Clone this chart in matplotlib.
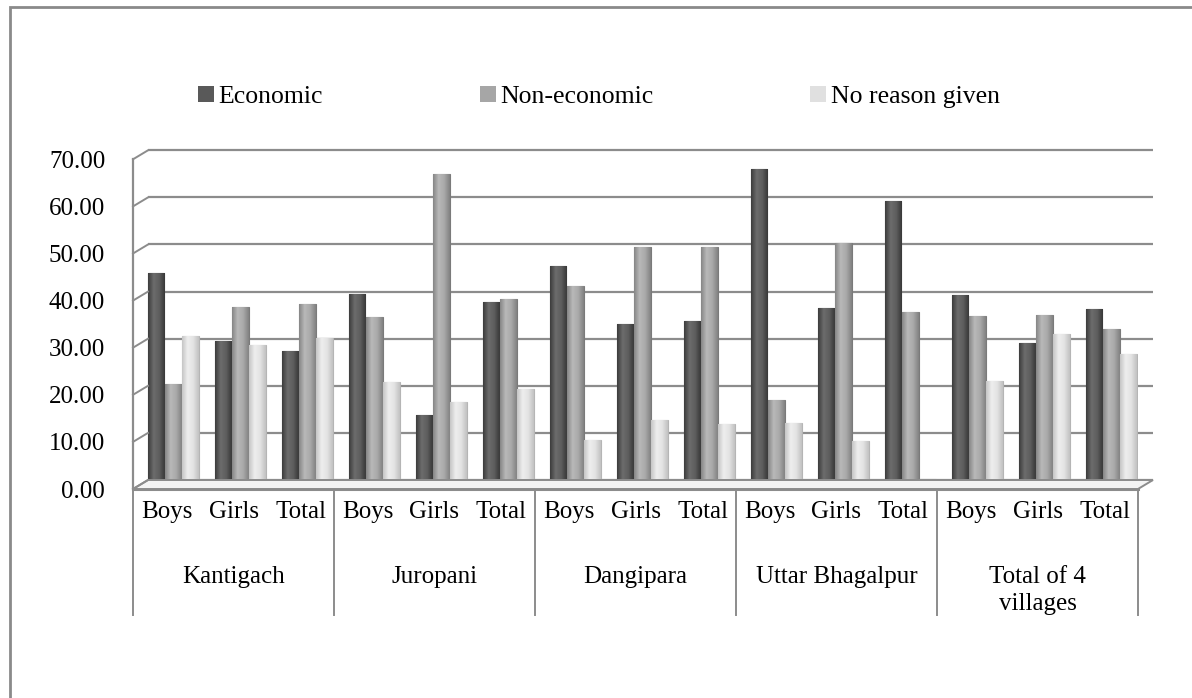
import numpy as np
import matplotlib
matplotlib.use("Agg")
import matplotlib.pyplot as plt
from matplotlib.colors import LinearSegmentedColormap
from matplotlib.patches import Rectangle, Polygon, Patch
from matplotlib.transforms import ScaledTranslation

# ---------------- data ----------------
villages = ["Kantigach", "Juropani", "Dangipara", "Uttar Bhagalpur", "Total of 4\nvillages"]
subgroups = ["Boys", "Girls", "Total"]
series_names = ["Economic", "Non-economic", "No reason given"]
economic = [45.8, 31.5, 29.4, 41.4, 15.7, 39.6, 47.3, 35.0, 35.7, 67.9, 38.4, 61.1, 41.2, 30.9, 38.2]
non_economic = [22.3, 38.7, 39.3, 36.6, 66.8, 40.4, 43.0, 51.3, 51.3, 18.9, 52.3, 37.5, 36.8, 37.0, 34.0]
no_reason = [32.5, 30.6, 32.0, 22.8, 18.4, 21.2, 10.4, 14.6, 13.8, 14.1, 10.2, 2.2, 23.0, 33.0, 28.7]
yticks = [0, 10, 20, 30, 40, 50, 60, 70]
ytick_labels = ["%.2f" % v for v in yticks]

plt.rcParams['font.family'] = ['Liberation Serif', 'DejaVu Serif']

W, H = 1192, 698
fig = plt.figure(figsize=(W / 100, H / 100), dpi=100)
ax = fig.add_axes([133 / W, (H - 489) / H, 1005 / W, 329.7 / H])
n = len(economic)
ax.set_xlim(0, n)
ax.set_ylim(0, 70)
ax.set_frame_on(False)
ax.set_xticks([])
ax.set_yticks(yticks)
ax.set_yticklabels(ytick_labels, fontsize=18)
ax.tick_params(axis='y', length=0, pad=20)

grid_col = '#8c8c8c'
back = ax.transData + ScaledTranslation(15 / 100, 9 / 100, fig.dpi_scale_trans)

# back wall gridlines
for v in yticks:
    ax.plot([0, n], [v, v], transform=back, color=grid_col, lw=1.6, zorder=1, clip_on=False,
            solid_capstyle='butt')
# left wall diagonal ticks (front point -> back point)
for v in yticks:
    p_front = ax.transData.transform((0, v))
    p_back = back.transform((0, v))
    fig.add_artist(plt.Line2D([p_front[0] / W, p_back[0] / W], [p_front[1] / H, p_back[1] / H],
                              color=grid_col, lw=1.4, zorder=1))
ax.plot([0, 0], [0, 70], color=grid_col, lw=1.6, zorder=1, clip_on=False)

# floor
f0 = ax.transData.transform((0, 0))
f1 = ax.transData.transform((n, 0))
b0 = back.transform((0, 0))
b1 = back.transform((n, 0))
floor = Polygon([[f0[0] / W, f0[1] / H], [f1[0] / W, f1[1] / H], [b1[0] / W, b1[1] / H],
                 [b0[0] / W, b0[1] / H]], closed=True, facecolor='#f4f4f4',
                edgecolor=grid_col, lw=1.4, zorder=0.5, transform=fig.transFigure)
fig.add_artist(floor)
ax.plot([0, n], [0, 0], color=grid_col, lw=2.2, zorder=1.5, clip_on=False)

# bars
cmaps = [
    LinearSegmentedColormap.from_list('e', ['#3c3c3c', '#6c6c6c', '#5e5e5e', '#383838']),
    LinearSegmentedColormap.from_list('n', ['#868686', '#b9b9b9', '#a9a9a9', '#828282']),
    LinearSegmentedColormap.from_list('r', ['#c6c6c6', '#eeeeee', '#e3e3e3', '#c2c2c2']),
]
face = ['#595959', '#a6a6a6', '#e0e0e0']
edge = ['#333333', '#7a7a7a', '#b5b5b5']
width = 0.25
xs = np.arange(n) + 0.6
grad = np.linspace(0, 1, 64).reshape(1, -1)
handles = []
for j, vals in enumerate([economic, non_economic, no_reason]):
    bars = ax.bar(xs + (j - 1) * 0.255, vals, width, color=face[j], edgecolor=edge[j],
                  lw=0.8, zorder=3 + j * 0.01, label=series_names[j])
    for b in bars:
        x0, w, h = b.get_x(), b.get_width(), b.get_height()
        im = ax.imshow(grad, extent=(x0, x0 + w, 0, h), cmap=cmaps[j], aspect='auto',
                       zorder=3.001 + j * 0.01, interpolation='bilinear')
        im.set_clip_path(b)
    handles.append(Patch(facecolor=face[j], edgecolor='none'))
ax.set_xlim(0, n)
ax.set_ylim(0, 70)

# category axis table
xt = ax.get_xaxis_transform()
for k in range(0, n + 1, 3):
    ax.plot([k, k], [0, -0.382], transform=xt, color=grid_col, lw=1.4, clip_on=False)
for i in range(n):
    ax.text(i + 0.5, -0.069, subgroups[i % 3], transform=xt, ha='center', va='center',
            fontsize=18)
for g, name in enumerate(villages):
    ax.text(g * 3 + 1.5, -0.234, name, transform=xt, ha='center', va='top',
            fontsize=18, linespacing=1.3)

# legend
fig.legend(handles, series_names, loc='center left', bbox_to_anchor=(198 / W, 1 - 97 / H),
           ncol=3, frameon=False, fontsize=18.5, handlelength=0.62, handleheight=0.62,
           handletextpad=0.18, columnspacing=6.1, borderpad=0, borderaxespad=0)

# outer border
fig.add_artist(Rectangle((10 / W, -0.01), 1.02, (H - 7) / H + 0.01, transform=fig.transFigure,
                         fill=False, edgecolor='#8a8a8a', lw=2.0))

fig.savefig('out.png', dpi=100)
